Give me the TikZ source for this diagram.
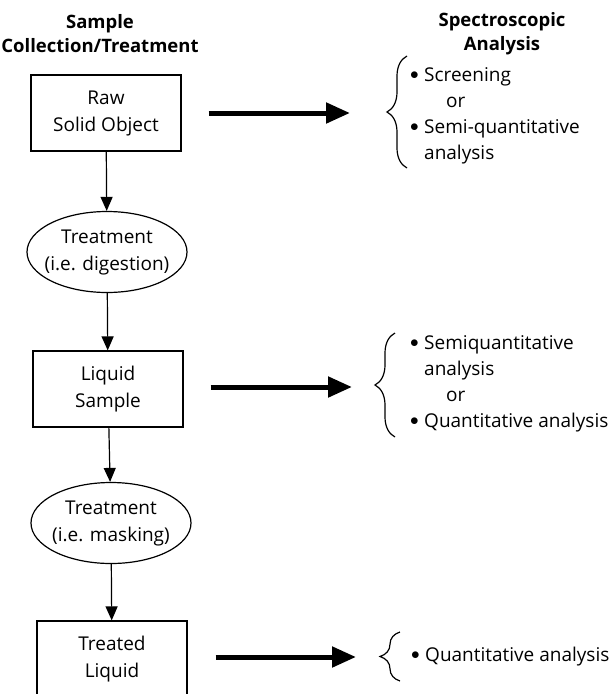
\documentclass[tikz,border=0pt]{standalone}
\usepackage{fontspec}
\setmainfont{Open Sans}
\usetikzlibrary{arrows.meta,shapes.geometric,decorations.pathreplacing}
\tikzset{
  txt/.style={font=\fontsize{19}{27}\selectfont},
  head/.style={font=\bfseries\fontsize{18.5}{24}\selectfont,align=center},
  box/.style={txt,draw,line width=1.2pt,minimum width=150pt,minimum height=76pt,align=center,inner sep=0pt},
  oval/.style={txt,draw,ellipse,line width=1.2pt,minimum width=160pt,minimum height=81pt,align=center,inner xsep=-8pt,inner ysep=0pt},
  flow/.style={line width=1.2pt,-{Triangle[length=14pt,width=12pt]}},
  bigflow/.style={line width=5pt,-{Triangle[length=24pt,width=20pt]}},
  curly/.style={line width=1.2pt,decorate,decoration={brace,amplitude=20pt}},
  list/.style={font=\fontsize{19}{26}\selectfont,align=left,anchor=west,inner sep=0pt}
}
\newcommand\itm{\makebox[14pt][l]{\raisebox{2pt}{$\bullet$}}}
\begin{document}
\begin{tikzpicture}[x=1pt,y=-1pt]
      \useasboundingbox (0,0) rectangle (613,694);
      \draw
        (100,34) node[head] (colhead){Sample\\Collection/Treatment}
        (502,34) node[head] (spechead){Spectroscopic\\Analysis}
        (106,113) node[box] (raw){Raw\\Solid Object}
        (107,252) node[oval] (digest){Treatment\\(i.e. digestion)}
        (108,389) node[box] (liquid){Liquid\\Sample}
        (111,523) node[oval] (mask){Treatment\\(i.e. masking)}
        (112,659) node[box] (treated){Treated\\Liquid};
      \coordinate (tip1) at (382,113);
      \coordinate (tip2) at (370,387);
      \coordinate (tip3) at (378,657);
      \draw[curly] (407,168) -- (407,56);
      \draw[curly] (395,437) -- (395,333);
      \draw[curly] (400,681) -- (400,632);
      \draw
        (410,116) node[list] (list1){\itm Screening\\\hspace{36pt}or\\\itm Semi-quantitative\\\hspace{14pt}analysis}
        (410,384) node[list] (list2){\itm Semiquantitative\\\hspace{14pt}analysis\\\hspace{36pt}or\\\itm Quantitative analysis}
        (411,657) node[list] (list3){\itm Quantitative analysis};
      \begin{scope}[flow]
        \draw (raw) to (digest);
        \draw (digest) to (liquid);
        \draw (liquid) to (mask);
        \draw (mask) to (treated);
      \end{scope}
      \begin{scope}[bigflow]
        \draw[shorten <=27pt,shorten >=32pt] (raw.east) to (tip1);
        \draw[shorten <=27pt,shorten >=18pt] (liquid.east |- tip2) to (tip2);
        \draw[shorten <=28pt,shorten >=22pt] (treated.east |- tip3) to (tip3);
      \end{scope}
    \end{tikzpicture}
\end{document}
